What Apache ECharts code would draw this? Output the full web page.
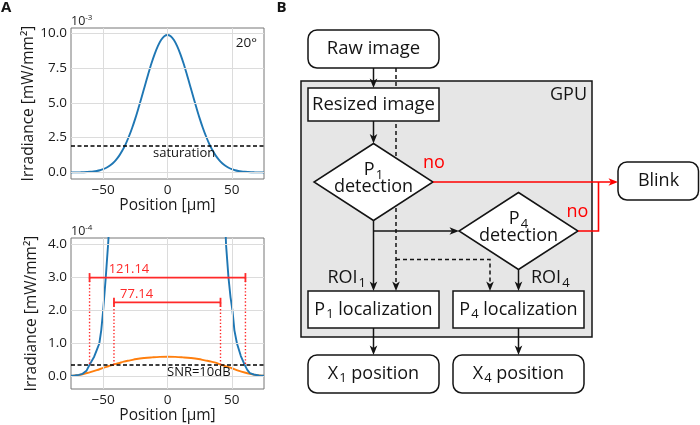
<!DOCTYPE html>
<html><head><meta charset="utf-8">
<script src="https://cdn.jsdelivr.net/npm/echarts@6/dist/echarts.min.js"></script>
<style>html,body{margin:0;padding:0;background:#fff}#c{width:700px;height:425px}</style>
</head><body><div id="c"></div>
<script>
// ---------- data ----------
const xTicks = [-50, 0, 50];
const topYTicks = [0, 2.5, 5.0, 7.5, 10.0];
const bottomYTicks = [0, 1, 2, 3, 4];

const blueTopPos = [-75,-72.5,-70,-67.5,-65,-62.5,-60,-57.5,-55,-52.5,-50,-47.5,-45,-42.5,-40,-37.5,-35,-32.5,-30,-27.5,-25,-22.5,-20,-17.5,-15,-12.5,-10,-7.5,-5,-2.5,0,2.5,5,7.5,10,12.5,15,17.5,20,22.5,25,27.5,30,32.5,35,37.5,40,42.5,45,47.5,50,52.5,55,57.5,60,62.5,65,67.5,70,72.5,75];
const blueTopVal = [0.002,0.004,0.007,0.011,0.018,0.029,0.046,0.071,0.108,0.161,0.236,0.34,0.48,0.665,0.905,1.21,1.59,2.04,2.58,3.19,3.88,4.64,5.43,6.25,7.05,7.82,8.50,9.07,9.51,9.78,9.87,9.78,9.51,9.07,8.50,7.82,7.05,6.25,5.43,4.64,3.88,3.19,2.58,2.04,1.59,1.21,0.905,0.665,0.48,0.34,0.236,0.161,0.108,0.071,0.046,0.029,0.018,0.011,0.007,0.004,0.002];
const saturationLevel = 1.94;

const blueBottomPos = [-75,-72,-69,-66,-63,-60.5,-57,-55,-53,-51.5,-50,-48,-46,-44,-40,-30,-20,-10,0,10,20,30,40,44,45.5,47.4,49,50.5,52,54,57,60,62,64,67,71,75];
const blueBottomVal = [0.02,0.03,0.05,0.08,0.17,0.36,0.6,0.8,1.0,1.4,2.0,3.0,4.1,5.6,9.0,25.8,54,85,98.7,85,54,25.8,9.0,5.6,4.0,3.0,2.4,2.0,1.4,1.0,0.62,0.35,0.2,0.1,0.06,0.03,0.02];

const orangePos = [-75,-72,-68,-64,-60,-55,-50,-46,-42,-38,-34,-29,-24,-18,-12,-6,0,6,12,18,24,29,34,38,42,46,50,55,60,64,68,72,75];
const orangeVal = [0.01,0.03,0.05,0.09,0.13,0.19,0.26,0.31,0.36,0.40,0.45,0.49,0.53,0.56,0.58,0.595,0.60,0.595,0.58,0.56,0.53,0.49,0.45,0.41,0.35,0.30,0.25,0.18,0.12,0.08,0.05,0.03,0.02];
const snrLevel = 0.36;

const spanLabels = ['121.14', '77.14'];
const spanLeft = [-60.57, -41.6];
const spanRight = [60.57, 41.2];
const spanLevel = [3.0, 2.25];

// ---------- style ----------
const FONT = '"Open Sans", "Noto Sans", sans-serif';
const RED = '#ff2a2a';
const BLUE = '#1f77b4';
const ORANGE = '#ff7f0e';
const GRIDC = '#dcdcdc';
const fmtMinus = v => String(v).replace('-', '\u2212');

function xAx(idx, nameGap) {
  return {
    type: 'value', gridIndex: idx, min: -75, max: 75,
    axisLine: {show: false}, axisTick: {show: false}, splitLine: {show: false},
    axisLabel: {customValues: xTicks, formatter: fmtMinus, fontFamily: FONT, fontSize: 13.5, color: '#1a1a1a', margin: 4},
    name: 'Position [µm]', nameLocation: 'middle', nameGap: nameGap,
    nameTextStyle: {fontFamily: FONT, fontSize: 15.5, color: '#1a1a1a'}
  };
}
function yAx(idx, min, max, ticks) {
  return {
    type: 'value', gridIndex: idx, min: min, max: max,
    axisLine: {show: false}, axisTick: {show: false}, splitLine: {show: false},
    axisLabel: {customValues: ticks, formatter: v => v.toFixed(1), fontFamily: FONT, fontSize: 13.5, color: '#1a1a1a', margin: 4},
    name: 'Irradiance [mW/mm²]', nameLocation: 'middle', nameGap: 31,
    nameTextStyle: {fontFamily: FONT, fontSize: 15.5, color: '#1a1a1a'}
  };
}
function gridLines(idx, yt) {
  return {
    type: 'line', xAxisIndex: idx, yAxisIndex: idx, data: [], z: 1, silent: true,
    markLine: {
      silent: true, symbol: ['none', 'none'], label: {show: false}, animation: false,
      lineStyle: {color: GRIDC, width: 1, type: 'solid'},
      data: xTicks.map(v => ({xAxis: v})).concat(yt.map(v => ({yAxis: v})))
    }
  };
}
function hDashed(idx, level) {
  return {
    type: 'line', xAxisIndex: idx, yAxisIndex: idx, data: [], z: 5, silent: true,
    markLine: {
      silent: true, symbol: ['none', 'none'], label: {show: false}, animation: false,
      lineStyle: {color: '#000', width: 1.5, type: [4, 2.5]},
      data: [{yAxis: level}]
    }
  };
}
const pairs = (xs, ys) => xs.map((x, i) => [x, ys[i]]);

const series = [
  gridLines(0, topYTicks),
  gridLines(1, bottomYTicks),
  {type: 'line', xAxisIndex: 0, yAxisIndex: 0, data: pairs(blueTopPos, blueTopVal), showSymbol: false, smooth: 0.3,
   lineStyle: {color: BLUE, width: 1.9}, itemStyle: {color: BLUE}, z: 3, clip: true},
  hDashed(0, saturationLevel),
  {type: 'line', xAxisIndex: 1, yAxisIndex: 1, data: pairs(orangePos, orangeVal), showSymbol: false, smooth: 0.4,
   lineStyle: {color: ORANGE, width: 1.9}, itemStyle: {color: ORANGE}, z: 3, clip: true},
  {type: 'line', xAxisIndex: 1, yAxisIndex: 1, data: pairs(blueBottomPos, blueBottomVal), showSymbol: false,
   lineStyle: {color: BLUE, width: 1.9}, itemStyle: {color: BLUE}, z: 3, clip: true},
  hDashed(1, snrLevel)
];
const labelOffsets = [[20, -10], [7, -10]];
spanLabels.forEach((lab, i) => {
  series.push({type: 'line', xAxisIndex: 1, yAxisIndex: 1, showSymbol: false, z: 6, silent: true,
    data: [[spanLeft[i], spanLevel[i]], [spanRight[i], spanLevel[i]]],
    lineStyle: {color: RED, width: 1.8}});
  series.push({type: 'line', xAxisIndex: 1, yAxisIndex: 1, showSymbol: false, z: 6, silent: true,
    data: [[spanLeft[i], spanLevel[i]], [spanLeft[i], snrLevel]],
    lineStyle: {color: RED, width: 1.4, type: [1.4, 2]}});
  series.push({type: 'line', xAxisIndex: 1, yAxisIndex: 1, showSymbol: false, z: 6, silent: true,
    data: [[spanRight[i], spanLevel[i]], [spanRight[i], snrLevel]],
    lineStyle: {color: RED, width: 1.4, type: [1.4, 2]}});
  series.push({type: 'scatter', xAxisIndex: 1, yAxisIndex: 1, z: 7, silent: true,
    symbol: 'rect', symbolSize: [1.8, 9], itemStyle: {color: RED, opacity: 1},
    data: [
      {value: [spanLeft[i], spanLevel[i]],
       label: {show: true, formatter: lab, position: labelOffsets[i], color: RED, fontFamily: FONT, fontSize: 13}},
      {value: [spanRight[i], spanLevel[i]]}
    ]});
});

// ---------- flowchart (graphic) ----------
const FF = FONT;
const INK = '#141414';
const G = [];
function head(x, y, dir, color) {
  let pts;
  if (dir === 'down') pts = [[x, y], [x - 3.8, y - 9.5], [x, y - 7], [x + 3.8, y - 9.5]];
  else pts = [[x, y], [x - 9.5, y - 3.8], [x - 7, y], [x - 9.5, y + 3.8]];
  G.push({type: 'polygon', shape: {points: pts}, style: {fill: color || INK, stroke: null}, z: 30});
}
function pl(points, color, dash, w) {
  G.push({type: 'polyline', shape: {points}, style: {stroke: color || INK, lineWidth: w || 1.5, lineDash: dash || null, fill: null}, z: 30});
}
function box(x, y, w, h, r, fill) {
  G.push({type: 'rect', shape: {x, y, width: w, height: h, r: r || 0}, style: {fill: fill || '#fff', stroke: INK, lineWidth: 1.5}, z: 30});
}
function text(x, y, t, o) {
  G.push({type: 'text', x, y, z: 31, style: Object.assign({text: t, fontFamily: FF, fontSize: 18, fill: INK, align: 'center', verticalAlign: 'middle'}, o || {})});
}
function subText(x, y, a, s, b, o) {
  G.push({type: 'text', x, y, z: 31, style: Object.assign({
    text: '{m|' + a + '}{s|' + s + '}' + (b ? '{m|' + b + '}' : ''),
    fill: INK, align: 'center', verticalAlign: 'middle',
    rich: {m: {fontFamily: FF, fontSize: 18, fill: INK}, s: {fontFamily: FF, fontSize: 13, fill: INK, padding: [10, 0, 0, 1]}}
  }, o || {})});
}

// GPU panel
box(301, 81, 291, 256, 0, '#e6e6e6');
text(587, 95, 'GPU', {align: 'right'});
// dashed paths
pl([[396, 68], [396, 282]], INK, [4, 3]);
head(396, 291, 'down');
pl([[396, 259.5], [490, 259.5], [490, 282]], INK, [4, 3]);
head(490, 291, 'down');
// boxes
box(308, 30, 131, 38, 9);
box(308, 88, 131, 33, 0);
G.push({type: 'polygon', shape: {points: [[373.5, 143.5], [433, 182], [373.5, 220.5], [314, 182]]}, style: {fill: '#fff', stroke: INK, lineWidth: 1.5}, z: 30});
G.push({type: 'polygon', shape: {points: [[518.5, 192.5], [578, 231], [518.5, 269.5], [459, 231]]}, style: {fill: '#fff', stroke: INK, lineWidth: 1.5}, z: 30});
box(618, 162, 80.5, 38, 9);
box(308, 291, 131, 37, 0);
box(453, 291, 131, 37, 0);
box(308, 355, 131, 38, 9);
box(453, 355, 131, 38, 9);
// solid arrows
pl([[373.5, 68], [373.5, 81]]); head(373.5, 88, 'down');
pl([[373.5, 121], [373.5, 137]]); head(373.5, 143.5, 'down');
pl([[373.5, 220.5], [373.5, 284]]); head(373.5, 291, 'down');
pl([[373.5, 231], [452, 231]]); head(459, 231, 'right');
pl([[518.5, 269.5], [518.5, 284]]); head(518.5, 291, 'down');
pl([[373.5, 328], [373.5, 348]]); head(373.5, 355, 'down');
pl([[518.5, 328], [518.5, 348]]); head(518.5, 355, 'down');
// red "no" paths
pl([[433, 182], [611, 182]], '#f00', null, 1.6); head(618, 182, 'right', '#f00');
pl([[578, 231], [598.5, 231], [598.5, 182]], '#f00', null, 1.6);
// texts
text(373.5, 49, 'Raw image', {fontSize: 18.5});
text(373.5, 104.5, 'Resized image', {fontSize: 18.5});
subText(373.5, 170, 'P', '1', '');
text(373.5, 187, 'detection');
subText(518.5, 219, 'P', '4', '');
text(518.5, 236, 'detection');
text(434, 163, 'no', {fill: '#f00'});
text(577.5, 212, 'no', {fill: '#f00'});
subText(366, 278, 'ROI', '1', '', {align: 'right'});
subText(531, 278, 'ROI', '4', '', {align: 'left'});
subText(373.5, 309.5, 'P', '1', ' localization');
subText(518.5, 309.5, 'P', '4', ' localization');
subText(373.5, 373.5, 'X', '1', ' position');
subText(518.5, 373.5, 'X', '4', ' position');
text(658.5, 181, 'Blink');

// chart annotations
text(1, 8, 'A', {align: 'left', fontWeight: 'bold', fontSize: 15});
text(276.5, 8, 'B', {align: 'left', fontWeight: 'bold', fontSize: 15});
function pow10(x, y, e) {
  G.push({type: 'text', x, y, z: 31, style: {
    text: '{m|10}{s|' + e + '}', align: 'left', verticalAlign: 'middle', fill: '#222',
    rich: {m: {fontFamily: FF, fontSize: 12.5, fill: '#222'}, s: {fontFamily: FF, fontSize: 8, fill: '#222', padding: [0, 0, 7, 0]}}
  }});
}
pow10(71, 21, '-3');
pow10(71, 231.5, '-4');
text(257, 43, '20°', {align: 'right', fontSize: 13.5, fill: '#1a1a1a'});
text(153, 153, 'saturation', {align: 'left', fontSize: 13, fill: '#111'});
text(167, 372.5, 'SNR=10dB', {align: 'left', fontSize: 13, fill: '#111'});

const option = {
  animation: false,
  backgroundColor: '#fff',
  grid: [
    {left: 71, top: 28, width: 193, height: 151, show: true, borderColor: '#777', borderWidth: 1, backgroundColor: 'transparent'},
    {left: 71, top: 238, width: 193, height: 151, show: true, borderColor: '#777', borderWidth: 1, backgroundColor: 'transparent'}
  ],
  xAxis: [xAx(0, 17), xAx(1, 17)],
  yAxis: [yAx(0, -0.47, 10.37, topYTicks), yAx(1, -0.38, 4.2, bottomYTicks)],
  series: series,
  graphic: {elements: G}
};
const chart = echarts.init(document.getElementById('c'));
chart.setOption(option);
</script>
</body></html>
